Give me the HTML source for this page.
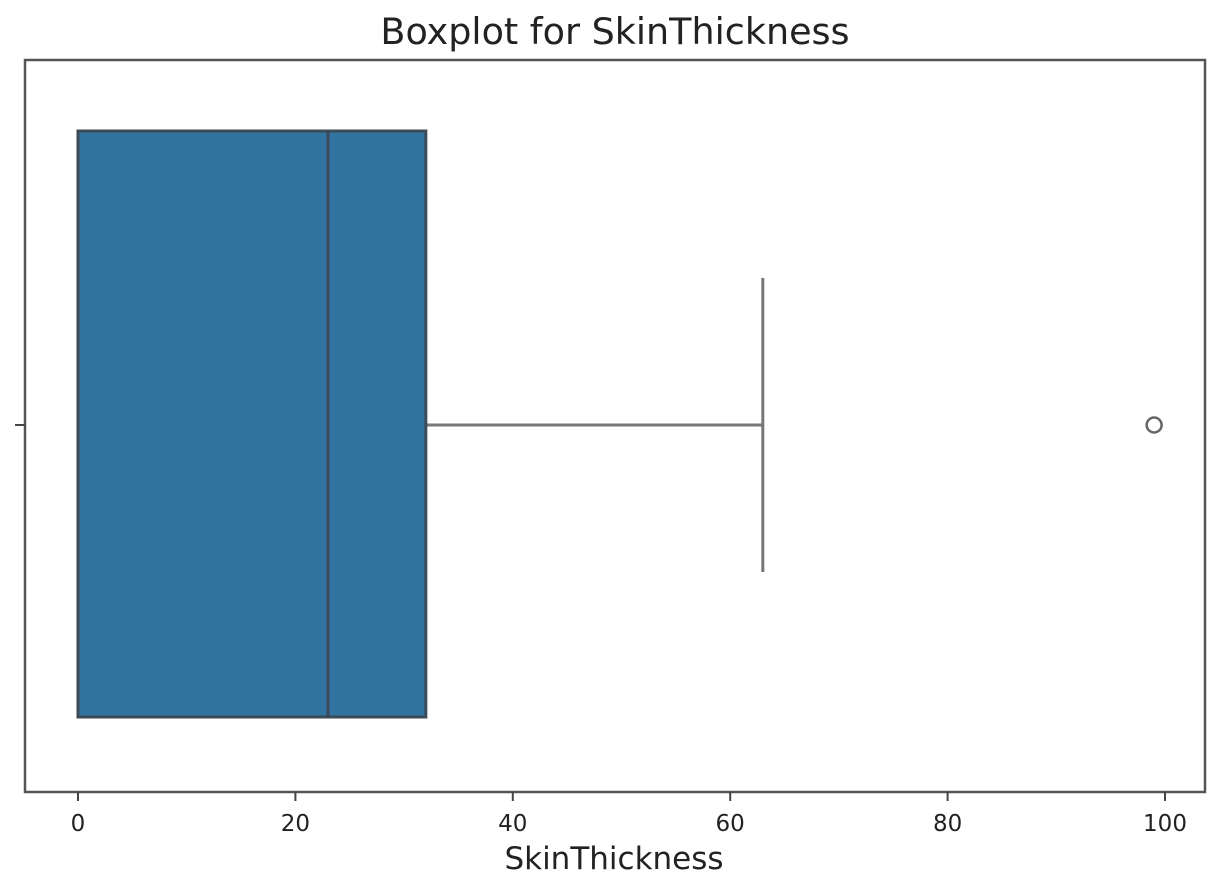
<!DOCTYPE html>
<html><head><meta charset="utf-8"><style>
body{margin:0;background:#fff;}
svg{display:block;font-family:"DejaVu Sans","Liberation Sans",sans-serif;}
</style></head><body>
<svg id="chart" width="1218" height="888">
<text x="615" y="44" font-size="36.5" text-anchor="middle" fill="#222">Boxplot for SkinThickness</text>
<g id="marks"></g>
<rect x="25" y="60" width="1180" height="732" fill="none" stroke="#555" stroke-width="2.5"/>
<line x1="15" y1="425" x2="25" y2="425" stroke="#444" stroke-width="2"/>
<g id="ticks"></g>
<text x="614" y="869" font-size="31" text-anchor="middle" fill="#222">SkinThickness</text>
</svg>
<script>
const xTicks=[0,20,40,60,80,100];
const q1=[0], median=[23], q3=[32], whiskerLow=[0], whiskerHigh=[63];
const outliers=[99];
const NS="http://www.w3.org/2000/svg";
function x(v){return 78+v*(1165-78)/100;}
const cy=425, boxTop=131, boxBot=717, capTop=278, capBot=572;
function mk(tag,attrs,parent){const e=document.createElementNS(NS,tag);for(const k in attrs)e.setAttribute(k,attrs[k]);parent.appendChild(e);return e;}
const m=document.getElementById('marks'), t=document.getElementById('ticks');
let e;
e=mk('line',{x1:x(q3[0]),y1:cy,x2:x(whiskerHigh[0]),y2:cy,stroke:'#777','stroke-width':3},m);


e=mk('line',{x1:x(whiskerHigh[0]),y1:capTop,x2:x(whiskerHigh[0]),y2:capBot,stroke:'#777','stroke-width':3},m);


e=mk('line',{x1:x(whiskerLow[0]),y1:capTop,x2:x(whiskerLow[0]),y2:capBot,stroke:'#777','stroke-width':3},m);


e=mk('rect',{x:x(q1[0]),y:boxTop,width:x(q3[0])-x(q1[0]),height:boxBot-boxTop,fill:'#3274a1',stroke:'#3d4a57','stroke-width':3},m);


e=mk('line',{x1:x(median[0]),y1:boxTop,x2:x(median[0]),y2:boxBot,stroke:'#3d4a57','stroke-width':3},m);


outliers.forEach(v=>{
  const c=mk('circle',{cx:x(v),cy:cy,r:7.5,fill:'none',stroke:'#666','stroke-width':2.5},m);
  
  
});
xTicks.forEach(v=>{
  const l=mk('line',{x1:x(v),y1:792,x2:x(v),y2:801,stroke:'#444','stroke-width':2},t);
  
  
  const s=mk('text',{x:x(v),y:831,'font-size':23,'text-anchor':'middle',fill:'#222'},t);
  s.textContent=v;
  
  
});
</script>
</body></html>
